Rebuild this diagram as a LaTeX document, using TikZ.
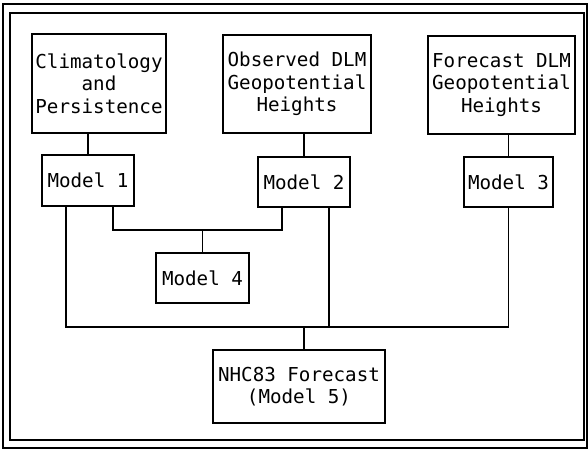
\documentclass[tikz,border=0pt]{standalone}
\usepackage{fontspec}
\newfontfamily\monofnt{DejaVu Sans Mono}
\usetikzlibrary{calc}
\tikzset{
  box/.style={draw, line width=2pt, rectangle, inner sep=0pt, align=center,
    font=\monofnt\fontsize{19.2}{22.5}\selectfont},
  conn/.style={draw, line width=1.7pt},
  frame/.style={draw, line width=2pt}
}
\begin{document}
\begin{tikzpicture}[x=1pt, y=-1pt]
\useasboundingbox (0,0) rectangle (588,450);
% double frame
\draw[frame] (3,4) rectangle (587,448);
\draw[frame] (10,13) rectangle (584,440);
% boxes
\node[box, minimum width=134pt, minimum height=99pt] (clim) at (99,83.5) {Climatology\\and\\Persistence};
\node[box, minimum width=148pt, minimum height=98pt] (obs) at (297,84) {Observed DLM\\Geopotential\\Heights};
\node[box, minimum width=147pt, minimum height=98pt] (fcst) at (501.5,85) {Forecast DLM\\Geopotential\\Heights};
\node[box, minimum width=92pt, minimum height=51pt] (m1) at (88,180.5) {Model 1};
\node[box, minimum width=92pt, minimum height=50pt] (m2) at (304,182) {Model 2};
\node[box, minimum width=89pt, minimum height=50pt] (m3) at (508.5,182) {Model 3};
\node[box, minimum width=93pt, minimum height=50pt] (m4) at (202.5,278) {Model 4};
\node[box, minimum width=172pt, minimum height=73pt] (nhc) at (299,386.5) {NHC83 Forecast\\(Model 5)};
% connectors from inputs
\draw[conn] (m1.north) -- (m1.north |- clim.south);
\draw[conn] (m2.north) -- (m2.north |- obs.south);
\draw[conn] (m3.north) -- (m3.north |- fcst.south);
% bus to Model 4
\coordinate (m1a) at ([xshift=25pt]m1.south west);
\coordinate (m1b) at ([xshift=-22pt]m1.south east);
\coordinate (m2a) at ([xshift=25pt]m2.south west);
\coordinate (m2b) at ([xshift=-22pt]m2.south east);
\coordinate (bus1) at (0,230);
\coordinate (bus2) at (0,327);
\draw[conn] (m1b) -- (m1b |- bus1) -- (m2a |- bus1) -- (m2a);
\draw[conn] (m4.north) -- (m4.north |- bus1);
% bus to NHC83
\draw[conn] (m1a) -- (m1a |- bus2) -- (m3.south |- bus2) -- (m3.south);
\draw[conn] (m2b) -- (m2b |- bus2);
\coordinate (b2) at (304,327);
\draw[conn] (b2) -- (b2 |- nhc.north);
\end{tikzpicture}
\end{document}
